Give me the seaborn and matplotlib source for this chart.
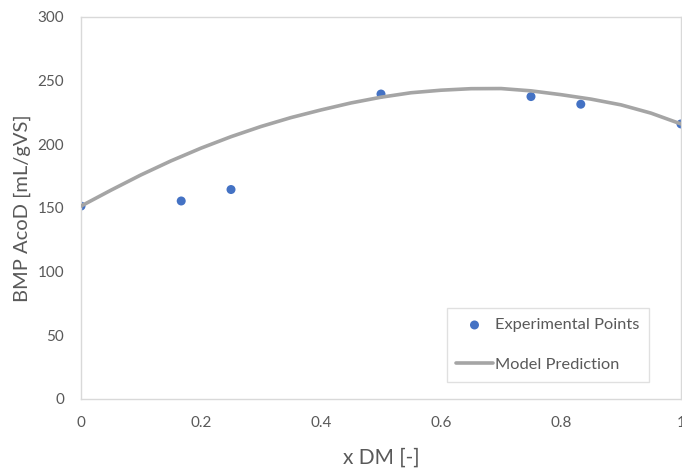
import matplotlib
matplotlib.use("Agg")
import matplotlib.pyplot as plt
import seaborn as sns
import pandas as pd

# Measured BMP values for each DM fraction
exp_x = [0.0, 0.167, 0.25, 0.5, 0.75, 0.833, 1.0]
exp_y = [151.5, 155.5, 164.5, 239.5, 237.5, 231.5, 216.0]

# Model prediction sampled along the DM fraction
model_x = [0.0, 0.05, 0.10, 0.15, 0.20, 0.25, 0.30, 0.35, 0.40, 0.45, 0.50,
           0.55, 0.60, 0.65, 0.70, 0.75, 0.80, 0.85, 0.90, 0.95, 1.00]
model_y = [151.5, 164.0, 176.0, 187.0, 197.0, 206.0, 214.0, 221.0, 227.0, 232.5, 237.0,
           240.5, 242.5, 243.7, 243.8, 242.0, 239.0, 235.5, 231.0, 224.5, 216.0]

x_ticks = [0, 0.2, 0.4, 0.6, 0.8, 1]
x_tick_labels = ["0", "0.2", "0.4", "0.6", "0.8", "1"]
y_ticks = [0, 50, 100, 150, 200, 250, 300]

sns.set_theme(style="white")
plt.rcParams["font.family"] = ["Lato", "DejaVu Sans"]

exp_df = pd.DataFrame({"x": exp_x, "y": exp_y})
model_df = pd.DataFrame({"x": model_x, "y": model_y})

fig = plt.figure(figsize=(6.82, 4.72), dpi=100)
ax = fig.add_axes([0.1188, 0.1547, 0.8797, 0.8093])

sns.scatterplot(data=exp_df, x="x", y="y", ax=ax, color="#4472C4", s=42,
                edgecolor="none", zorder=2, label="Experimental Points")
sns.lineplot(data=model_df, x="x", y="y", ax=ax, color="#A5A5A5", linewidth=2.6,
             zorder=3, label="Model Prediction")

ax.set_xlim(0, 1)
ax.set_ylim(0, 300)
ax.set_xticks(x_ticks)
ax.set_xticklabels(x_tick_labels)
ax.set_yticks(y_ticks)
ax.tick_params(axis="both", length=0, labelsize=11, labelcolor="#595959")
ax.tick_params(axis="x", pad=12)
ax.tick_params(axis="y", pad=12)

for side in ["left", "right", "top", "bottom"]:
    ax.spines[side].set_color("#D9D9D9")
    ax.spines[side].set_linewidth(1.0)

ax.set_xlabel("x DM [-]", fontsize=15, color="#595959", labelpad=13)
ax.set_ylabel("BMP AcoD [mL/gVS]", fontsize=14.5, color="#595959", labelpad=5)

handles, labels = ax.get_legend_handles_labels()
leg = ax.legend(handles, labels, loc="lower right", bbox_to_anchor=(0.947, 0.0445),
                fontsize=11.8, frameon=True, fancybox=False, borderpad=0.6,
                labelspacing=1.55, handlelength=2.2, handletextpad=0.15,
                borderaxespad=0.0, labelcolor="#595959")
leg.get_frame().set_edgecolor("#D9D9D9")
leg.get_frame().set_linewidth(1.0)

fig.savefig("out.png", dpi=100)
